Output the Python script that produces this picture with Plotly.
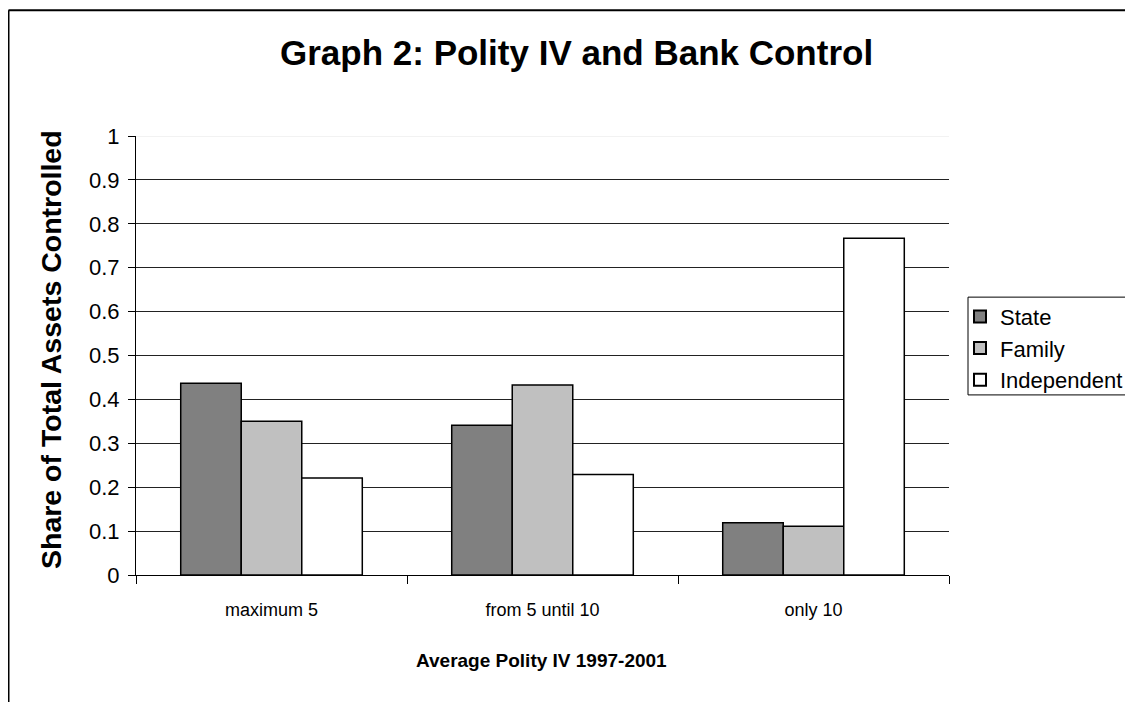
import plotly.graph_objects as go

categories = ["maximum 5", "from 5 until 10", "only 10"]
state = [0.437, 0.341, 0.119]
family = [0.350, 0.433, 0.111]
independent = [0.221, 0.229, 0.767]
series_names = ["State", "Family", "Independent"]
series_colors = ["#808080", "#C0C0C0", "#FFFFFF"]

OFF = 8  # browser body margin
W, H = 1133 - OFF, 702 - OFF
# plot area in page pixels
L, R = 136, 949
T, B = 135.5, 575.5
pw, ph = R - L, B - T

def px(x):
    return (x - L) / pw

def py(y):
    return (B - y) / ph

FONT = "Liberation Sans, Arial, sans-serif"

fig = go.Figure()
for name, vals, col in zip(series_names, [state, family, independent], series_colors):
    fig.add_trace(go.Bar(
        x=categories, y=vals, name=name,
        marker=dict(color=col, line=dict(color="black", width=1.5)),
    ))

fig.update_layout(
    width=W, height=H,
    margin=dict(l=L - OFF, r=W - (R - OFF), t=T - OFF, b=H - (B - OFF), pad=0,
                autoexpand=False),
    paper_bgcolor="white", plot_bgcolor="white",
    barmode="group", bargap=0.33, bargroupgap=0,
    font=dict(family=FONT, color="black"),
    showlegend=True,
    legend=dict(
        x=px(960), y=py(295.5), xanchor="left", yanchor="top",
        borderwidth=0, bgcolor="rgba(0,0,0,0)",
        font=dict(size=22, family=FONT, color="black"),
        tracegroupgap=0, itemsizing="constant",
    ),
    xaxis=dict(
        type="category", tickson="boundaries", ticks="outside", ticklen=8,
        tickcolor="black", showline=True, linecolor="black", linewidth=1,
        showgrid=False, tickfont=dict(size=18, family=FONT, color="black"),
        range=[-0.5, 2.5], fixedrange=True, ticklabelstandoff=18,
    ),
    yaxis=dict(
        range=[0, 1], tickvals=[0, 0.1, 0.2, 0.3, 0.4, 0.5, 0.6, 0.7, 0.8, 0.9, 1],
        ticktext=["0", "0.1", "0.2", "0.3", "0.4", "0.5", "0.6", "0.7", "0.8", "0.9", "1"],
        ticks="outside", ticklen=7, tickcolor="black", showline=True,
        linecolor="black", linewidth=1, showgrid=True, gridcolor="#222222",
        gridwidth=1, zeroline=False, tickfont=dict(size=22, family=FONT, color="black"),
        ticklabelstandoff=4,
    ),
    annotations=[
        dict(text="<b>Graph 2: Polity IV and Bank Control</b>", x=px(576), y=py(52),
             xref="paper", yref="paper", xanchor="center", yanchor="middle",
             showarrow=False, font=dict(size=35, family=FONT, color="black")),
        dict(text="<b>Average Polity IV 1997-2001</b>", x=px(541), y=py(661),
             xref="paper", yref="paper", xanchor="center", yanchor="middle",
             showarrow=False, font=dict(size=19, family=FONT, color="black")),
        dict(text="<b>Share of Total Assets Controlled</b>", x=px(51), y=py(350),
             xref="paper", yref="paper", xanchor="center", yanchor="middle",
             textangle=-90, showarrow=False, font=dict(size=28.5, family=FONT, color="black")),
    ],
    shapes=[
        # outer frame (top and left edges)
        dict(type="line", xref="paper", yref="paper", x0=px(8.5), x1=px(1140),
             y0=py(9.5), y1=py(9.5), line=dict(color="black", width=2)),
        dict(type="line", xref="paper", yref="paper", x0=px(8.5), x1=px(8.5),
             y0=py(9.5), y1=py(710), line=dict(color="black", width=2)),
        # lighter top gridline
        dict(type="line", xref="paper", yref="y", x0=0, x1=1, y0=1, y1=1,
             layer="above", line=dict(color="#E6E6E6", width=1)),
        # legend box
        dict(type="rect", xref="paper", yref="paper", x0=px(968), x1=px(1128),
             y0=py(297), y1=py(395), line=dict(color="black", width=1),
             fillcolor="rgba(0,0,0,0)", layer="below"),
    ],
)

fig.write_html("out.html")
